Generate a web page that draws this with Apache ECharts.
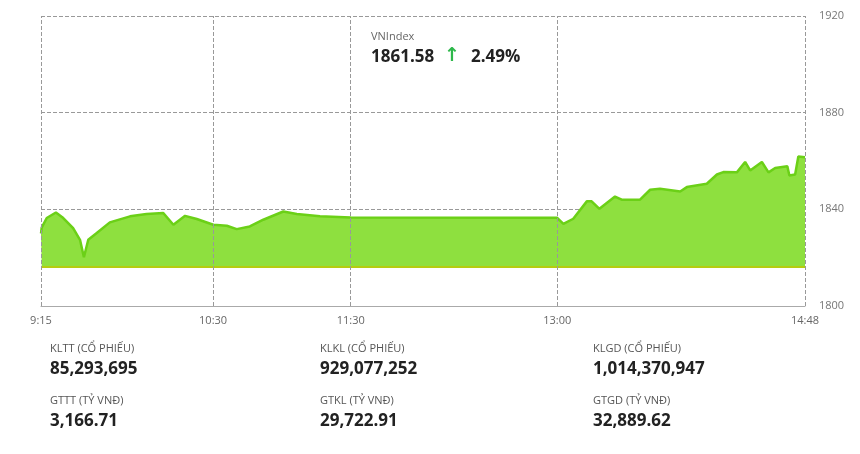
<!DOCTYPE html>
<html><head><meta charset="utf-8">
<script src="https://cdn.jsdelivr.net/npm/echarts@6/dist/echarts.min.js"></script>
<style>html,body{margin:0;background:#fff}#c{width:860px;height:454px}</style></head>
<body><div id="c"></div>
<script>
// minutes since 9:15, index value
const minutes=[0,0.3,2.5,6.5,9.7,14,17,18.7,20.6,24.3,30,38.8,46,53.3,57.7,62.8,67.9,75.1,81,85.3,91,96.9,105.6,111.5,121.6,135,225,227.7,232,237.9,240,243.4,250.2,253.1,261.1,265.5,269.8,278.6,281.5,290.2,294.6,297.4,303.3,306.9,309.1,314.2,317.1,320,325.3,326.2,328.7,330.1,333];
const values=[1830,1832.4,1836.4,1838.7,1836.4,1832.2,1827.4,1820.2,1827.4,1830.2,1834.6,1837.1,1838.1,1838.5,1833.6,1837.3,1836.0,1833.6,1833.2,1831.8,1832.9,1835.7,1839.1,1838.1,1837.1,1836.6,1836.5,1834.0,1836.1,1843.3,1843.3,1840.2,1845.3,1844.0,1844.0,1848.1,1848.5,1847.4,1849.2,1850.6,1854.4,1855.4,1855.3,1859.6,1856.1,1859.6,1855.3,1857.1,1857.8,1854.0,1854.4,1861.9,1861.6];
const tickMinutes=[0,75,135,225,333];
const tickLabels=['9:15','10:30','11:30','13:00','14:48'];
const refClose=1816.35;
const stats=[['KLTT (CỔ PHIẾU)','85,293,695'],['KLKL (CỔ PHIẾU)','929,077,252'],['KLGD (CỔ PHIẾU)','1,014,370,947'],['GTTT (TỶ VNĐ)','3,166.71'],['GTKL (TỶ VNĐ)','29,722.91'],['GTGD (TỶ VNĐ)','32,889.62']];
const header={name:'VNIndex',price:'1861.58',change:'2.49%'};

const chart=echarts.init(document.getElementById('c'));
const colX=[50,320,593];
const g=[];
stats.forEach((s,i)=>{const c=i%3,r=Math.floor(i/3);
 g.push({type:'text',left:colX[c],top:343+r*52,style:{text:s[0],fill:'#555',font:'11px "Open Sans"'}});
 g.push({type:'text',left:colX[c],top:361+r*52,style:{text:s[1],fill:'#222',font:'bold 17px "Open Sans"'}});
});
g.push({type:'text',left:371,top:31,style:{text:header.name,fill:'#666',font:'11px "Open Sans"'}});
g.push({type:'text',left:371,top:49,style:{text:header.price,fill:'#222',font:'bold 17px "Open Sans"'}});
g.push({type:'text',left:444,top:47,style:{text:'↑',fill:'#2eb84b',font:'bold 19px "DejaVu Sans"'}});
g.push({type:'text',left:471,top:49,style:{text:header.change,fill:'#222',font:'bold 17px "Open Sans"'}});
chart.setOption({
 animation:false,
 grid:{left:41,right:55,top:16,bottom:148},
 xAxis:{type:'value',min:0,max:333,splitLine:{show:false},axisTick:{show:false},
  axisLine:{lineStyle:{color:'#aaa'}},
  axisLabel:{customValues:tickMinutes,color:'#666',fontSize:11,fontFamily:'Open Sans',margin:9,
   formatter:v=>tickLabels[tickMinutes.indexOf(v)]||''}},
 yAxis:{type:'value',position:'right',min:1800,max:1920,interval:40,
  axisLine:{show:false},axisTick:{show:false},
  axisLabel:{color:'#777',fontSize:11,fontFamily:'Open Sans',margin:14,formatter:v=>String(v)},
  splitLine:{lineStyle:{type:'dashed',color:'#999'}}},
 graphic:g,
 series:[{type:'line',data:minutes.map((m,i)=>[m,values[i]]),symbol:'none',
  lineStyle:{color:'#6bd017',width:2.5},areaStyle:{color:'#8ee03f',opacity:1,origin:refClose},
  markLine:{silent:true,symbol:'none',label:{show:false},
   data:[{yAxis:refClose,lineStyle:{type:'solid',color:'#b5cc10',width:2}},
    ...tickMinutes.map(m=>({xAxis:m,lineStyle:{type:'dashed',color:'#999',width:1}}))]}
 }]
});
</script></body></html>
